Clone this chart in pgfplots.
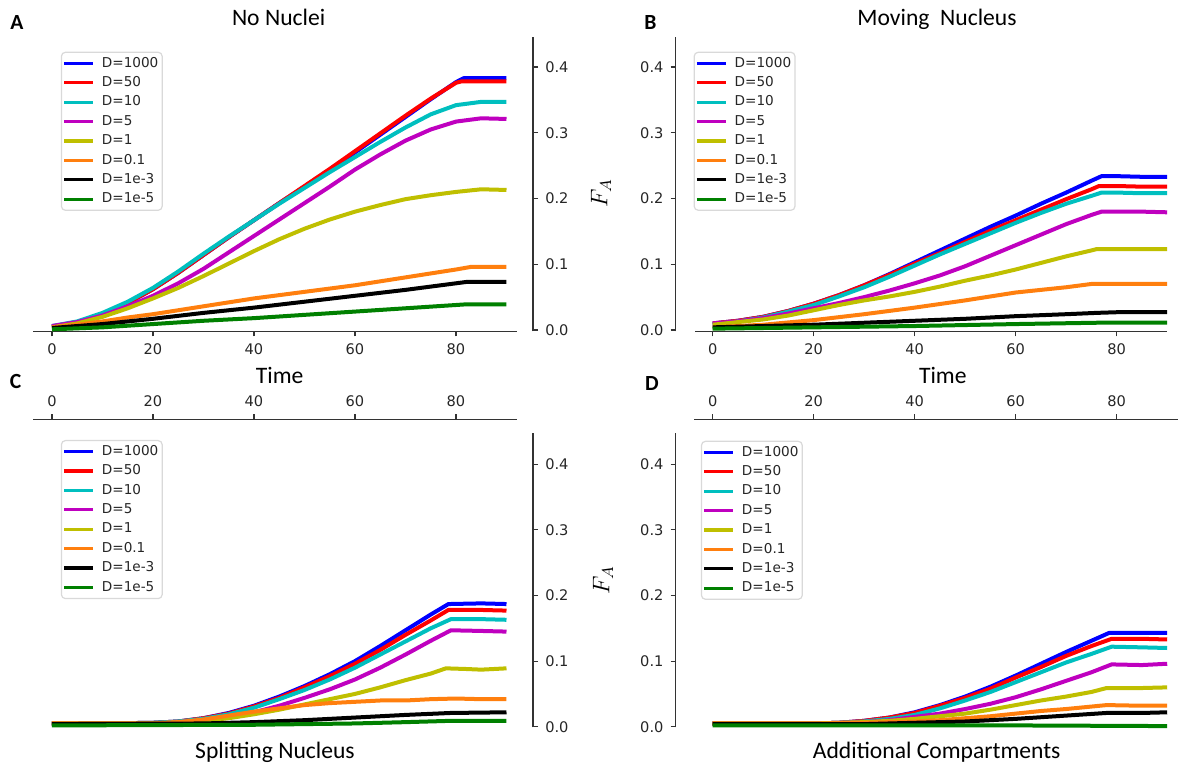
\documentclass[border=0pt]{standalone}
\usepackage{pgfplots}
\pgfplotsset{compat=1.18}
\usepackage{fontspec}
\setmainfont{Carlito}
\newfontfamily\dejavu{DejaVu Sans}
\definecolor{mb}{rgb}{0,0,1}
\definecolor{mr}{rgb}{1,0,0}
\definecolor{mc}{rgb}{0,0.75,0.75}
\definecolor{mm}{rgb}{0.75,0,0.75}
\definecolor{my}{rgb}{0.75,0.75,0}
\definecolor{mo}{HTML}{FF7F0E}
\definecolor{mk}{rgb}{0,0,0}
\definecolor{mg}{rgb}{0,0.5,0}
\pgfplotsset{
 every non boxed x axis/.style={},
 every non boxed y axis/.style={},
 panel/.style={
  scale only axis,
  clip=false,
  enlargelimits=false,
  no markers,
  separate axis lines,
  axis line style={black!80, line width=0.55pt, -},
  tick style={black!80, line width=0.55pt},
  tick align=outside,
  major tick length=2.6pt,
  xtick={0,20,40,60,80},
  ytick={0,0.1,0.2,0.3,0.4},
  tick label style={font=\dejavu\fontsize{7.3}{8.5}\selectfont, text=black!85},
  /pgf/number format/assume math mode=true,
  y tick label style={/pgf/number format/.cd, fixed, fixed zerofill, precision=1, /tikz/.cd},
  cycle list={{mb},{mr},{mc},{mm},{my},{mo},{mk},{mg}},
  every axis plot/.append style={line width=2pt, line join=round},
  legend image code/.code={\draw[#1,line width=1.6pt] (0pt,0pt) -- (14.7pt,0pt);},
  legend cell align=left,
  legend style={anchor=north west, draw=black!15, line width=0.6pt, rounded corners=2pt, fill=white,
    font=\dejavu\fontsize{6.8}{7.5}\selectfont, text=black!85, inner xsep=0.5pt, inner ysep=0.7pt,
    column sep=2.05pt, row sep=0pt,
    nodes={inner xsep=1.4pt, inner ysep=1.5pt, text height=5.2pt, text depth=1.5pt}},
 }
}
\begin{document}
\begin{tikzpicture}
\useasboundingbox (0,0) rectangle (589.5pt,382.5pt);
% ---------------- A ----------------
\begin{axis}[panel, at={(16.5pt,216.85pt)}, anchor=south west, width=250pt, height=147.25pt,
  xmin=-3.76, xmax=95.25, ymin=-0.002, ymax=0.446,
  axis x line=bottom, axis y line=right,
  x axis line style={-, shorten >=8pt}, y axis line style={-},
  legend style={at={(0.0556,0.9494)}}]
\addplot coordinates {(0,0.005)(5,0.012)(10,0.024)(15,0.041)(20,0.062)(25,0.087)(30,0.114)(35,0.141)(40,0.167)(45,0.193)(50,0.218)(55,0.244)(60,0.270)(65,0.297)(70,0.324)(75,0.351)(80,0.377)(81.5,0.383)(85,0.383)(90,0.383)};
\addplot coordinates {(0,0.005)(5,0.012)(10,0.024)(15,0.041)(20,0.062)(25,0.087)(30,0.114)(35,0.141)(40,0.167)(45,0.193)(50,0.219)(55,0.245)(60,0.272)(65,0.299)(70,0.326)(75,0.352)(80,0.376)(81,0.378)(85,0.378)(90,0.378)};
\addplot coordinates {(0,0.006)(5,0.013)(10,0.026)(15,0.043)(20,0.064)(25,0.089)(30,0.116)(35,0.142)(40,0.167)(45,0.192)(50,0.216)(55,0.240)(60,0.263)(65,0.286)(70,0.308)(75,0.328)(80,0.342)(85,0.347)(90,0.347)};
\addplot coordinates {(0,0.006)(5,0.012)(10,0.022)(15,0.036)(20,0.052)(25,0.071)(30,0.093)(35,0.118)(40,0.143)(45,0.168)(50,0.193)(55,0.218)(60,0.244)(65,0.267)(70,0.288)(75,0.305)(80,0.317)(85,0.322)(90,0.321)};
\addplot coordinates {(0,0.004)(5,0.010)(10,0.020)(15,0.033)(20,0.048)(25,0.064)(30,0.082)(35,0.101)(40,0.120)(45,0.138)(50,0.154)(55,0.168)(60,0.180)(65,0.190)(70,0.199)(75,0.205)(80,0.210)(85,0.214)(90,0.213)};
\addplot coordinates {(0,0.004)(5,0.008)(10,0.013)(15,0.019)(20,0.024)(25,0.030)(30,0.036)(35,0.042)(40,0.048)(45,0.053)(50,0.058)(55,0.063)(60,0.068)(65,0.074)(70,0.080)(75,0.086)(80,0.092)(83,0.096)(90,0.096)};
\addplot coordinates {(0,0.003)(10,0.009)(20,0.017)(30,0.026)(40,0.034)(50,0.043)(60,0.052)(70,0.061)(80,0.071)(82,0.073)(90,0.073)};
\addplot coordinates {(0,0.001)(10,0.004)(20,0.009)(30,0.014)(40,0.018)(50,0.023)(60,0.028)(70,0.033)(80,0.038)(82,0.039)(90,0.039)};
\legend{D=1000,D=50,D=10,D=5,D=1,D=0.1,D=1e-3,D=1e-5}
\end{axis}
% ---------------- B ----------------
\begin{axis}[panel, at={(337.85pt,216.85pt)}, anchor=south west, width=245.75pt, height=147.25pt,
  xmin=-7.33, xmax=90, ymin=-0.002, ymax=0.446,
  axis x line=bottom, axis y line=left,
  x axis line style={-, shorten <=9.65pt}, y axis line style={-},
  legend style={at={(0.0364,0.9494)}}]
\addplot coordinates {(0,0.010)(5,0.014)(10,0.020)(15,0.029)(20,0.040)(25,0.053)(30,0.068)(35,0.085)(40,0.103)(45,0.121)(50,0.139)(55,0.157)(60,0.174)(65,0.192)(70,0.209)(75,0.227)(77,0.234)(80,0.234)(85,0.233)(90,0.233)};
\addplot coordinates {(0,0.010)(5,0.014)(10,0.020)(15,0.029)(20,0.040)(25,0.053)(30,0.068)(35,0.084)(40,0.101)(45,0.117)(50,0.134)(55,0.151)(60,0.167)(65,0.183)(70,0.199)(75,0.214)(76.5,0.219)(80,0.219)(85,0.218)(90,0.218)};
\addplot coordinates {(0,0.009)(5,0.013)(10,0.019)(15,0.028)(20,0.038)(25,0.051)(30,0.065)(35,0.081)(40,0.098)(45,0.115)(50,0.131)(55,0.147)(60,0.163)(65,0.178)(70,0.192)(75,0.204)(77,0.209)(80,0.209)(85,0.208)(90,0.208)};
\addplot coordinates {(0,0.010)(5,0.013)(10,0.018)(15,0.025)(20,0.033)(25,0.041)(30,0.050)(35,0.060)(40,0.071)(45,0.083)(50,0.097)(55,0.113)(60,0.129)(65,0.145)(70,0.161)(75,0.175)(77,0.180)(80,0.180)(85,0.180)(90,0.179)};
\addplot coordinates {(0,0.008)(5,0.012)(10,0.016)(15,0.022)(20,0.030)(25,0.038)(30,0.045)(35,0.051)(40,0.058)(45,0.066)(50,0.075)(55,0.083)(60,0.092)(65,0.102)(70,0.112)(75,0.121)(76,0.123)(80,0.123)(85,0.123)(90,0.123)};
\addplot coordinates {(0,0.004)(10,0.008)(20,0.015)(30,0.024)(40,0.034)(50,0.045)(60,0.057)(65,0.061)(70,0.065)(75,0.070)(80,0.070)(90,0.070)};
\addplot coordinates {(0,0.004)(10,0.006)(20,0.008)(30,0.011)(40,0.014)(50,0.017)(60,0.021)(70,0.024)(76,0.026)(80,0.027)(90,0.027)};
\addplot coordinates {(0,0.002)(20,0.004)(40,0.006)(60,0.009)(76,0.011)(90,0.011)};
\legend{D=1000,D=50,D=10,D=5,D=1,D=0.1,D=1e-3,D=1e-5}
\end{axis}
% ---------------- C ----------------
\begin{axis}[panel, at={(16.5pt,18.8pt)}, anchor=south west, width=250pt, height=154.05pt,
  xmin=-3.76, xmax=95.25, ymin=-0.001, ymax=0.4686,
  axis x line=top, axis y line=right,
  x axis line style={-, shorten >=8pt}, y axis line style={-, shorten >=6.7pt},
  legend style={at={(0.0556,0.9328)}}]
\addplot coordinates {(0,0.005)(10,0.005)(20,0.006)(25,0.008)(30,0.013)(35,0.021)(40,0.032)(45,0.046)(50,0.062)(55,0.080)(60,0.100)(65,0.123)(70,0.147)(75,0.171)(78.5,0.187)(85,0.188)(90,0.187)};
\addplot coordinates {(0,0.005)(10,0.005)(20,0.006)(25,0.008)(30,0.013)(35,0.020)(40,0.031)(45,0.044)(50,0.060)(55,0.077)(60,0.096)(65,0.117)(70,0.140)(75,0.162)(78.5,0.178)(85,0.178)(90,0.177)};
\addplot coordinates {(0,0.005)(10,0.005)(20,0.006)(25,0.008)(30,0.012)(35,0.019)(40,0.029)(45,0.042)(50,0.056)(55,0.072)(60,0.090)(65,0.110)(70,0.130)(75,0.150)(79,0.164)(85,0.164)(90,0.163)};
\addplot coordinates {(0,0.005)(20,0.005)(25,0.007)(30,0.010)(35,0.015)(40,0.022)(45,0.032)(50,0.044)(55,0.057)(60,0.072)(65,0.090)(70,0.110)(75,0.131)(79,0.147)(85,0.146)(90,0.145)};
\addplot coordinates {(0,0.005)(20,0.005)(25,0.007)(30,0.009)(35,0.013)(40,0.019)(45,0.026)(50,0.034)(55,0.042)(60,0.050)(65,0.060)(70,0.071)(75,0.081)(78,0.089)(82,0.088)(85,0.087)(90,0.089)};
\addplot coordinates {(0,0.005)(20,0.005)(25,0.007)(30,0.011)(35,0.017)(40,0.023)(45,0.028)(50,0.033)(55,0.036)(60,0.038)(65,0.040)(70,0.040)(75,0.042)(80,0.043)(85,0.042)(90,0.042)};
\addplot coordinates {(0,0.004)(30,0.005)(40,0.007)(50,0.010)(60,0.014)(70,0.018)(79,0.021)(90,0.022)};
\addplot coordinates {(0,0.002)(40,0.003)(60,0.005)(70,0.007)(79,0.009)(90,0.009)};
\legend{D=1000,D=50,D=10,D=5,D=1,D=0.1,D=1e-3,D=1e-5}
\end{axis}
% ---------------- D ----------------
\begin{axis}[panel, at={(337.85pt,18.8pt)}, anchor=south west, width=251.3pt, height=154.05pt,
  xmin=-7.33, xmax=92.2, ymin=-0.001, ymax=0.4686,
  axis x line=top, axis y line=left,
  x axis line style={-, shorten <=9.3pt}, y axis line style={-, shorten >=6.7pt},
  legend style={at={(0.0501,0.9305)}}]
\addplot coordinates {(0,0.005)(20,0.005)(25,0.006)(30,0.009)(35,0.014)(40,0.022)(45,0.033)(50,0.046)(55,0.061)(60,0.078)(65,0.096)(70,0.114)(75,0.131)(78.5,0.143)(85,0.143)(90,0.143)};
\addplot coordinates {(0,0.005)(20,0.005)(25,0.006)(30,0.009)(35,0.014)(40,0.021)(45,0.032)(50,0.044)(55,0.058)(60,0.075)(65,0.091)(70,0.108)(75,0.123)(79,0.134)(85,0.134)(90,0.133)};
\addplot coordinates {(0,0.005)(20,0.005)(25,0.006)(30,0.008)(35,0.012)(40,0.018)(45,0.028)(50,0.040)(55,0.053)(60,0.068)(65,0.083)(70,0.098)(75,0.111)(79,0.122)(85,0.121)(90,0.120)};
\addplot coordinates {(0,0.005)(20,0.005)(30,0.007)(35,0.010)(40,0.015)(45,0.020)(50,0.027)(55,0.035)(60,0.045)(65,0.057)(70,0.070)(75,0.083)(79,0.095)(85,0.094)(90,0.096)};
\addplot coordinates {(0,0.005)(20,0.005)(30,0.007)(35,0.009)(40,0.012)(45,0.016)(50,0.020)(55,0.026)(60,0.033)(65,0.040)(70,0.046)(75,0.053)(78,0.059)(85,0.059)(90,0.060)};
\addplot coordinates {(0,0.005)(20,0.005)(30,0.006)(40,0.008)(45,0.010)(50,0.013)(55,0.016)(60,0.020)(65,0.024)(70,0.027)(78,0.033)(85,0.032)(90,0.032)};
\addplot coordinates {(0,0.004)(30,0.004)(40,0.006)(50,0.008)(60,0.012)(70,0.017)(78,0.021)(85,0.021)(90,0.022)};
\addplot coordinates {(0,0.002)(30,0.002)(60,0.002)(90,0.001)};
\legend{D=1000,D=50,D=10,D=5,D=1,D=0.1,D=1e-3,D=1e-5}
\end{axis}
% ---------------- texts ----------------
\node[anchor=base, font=\fontsize{10.8}{12}\selectfont\bfseries] at (8.4pt,367.5pt) {A};
\node[anchor=base, font=\fontsize{10.8}{12}\selectfont\bfseries] at (325.2pt,367.85pt) {B};
\node[anchor=base, font=\fontsize{10.8}{12}\selectfont\bfseries] at (7.8pt,188.35pt) {C};
\node[anchor=base, font=\fontsize{10.8}{12}\selectfont\bfseries] at (326pt,187.15pt) {D};
\node[anchor=base, font=\fontsize{11.8}{14}\selectfont] at (139.3pt,369.5pt) {No Nuclei};
\node[anchor=base, font=\fontsize{11.8}{14}\selectfont] at (468.5pt,369.5pt) {Moving\ \ Nucleus};
\node[anchor=base, font=\fontsize{11.8}{14}\selectfont] at (139.85pt,190.85pt) {Time};
\node[anchor=base, font=\fontsize{11.8}{14}\selectfont] at (471.4pt,190.85pt) {Time};
\node[anchor=base, font=\fontsize{11.8}{14}\selectfont] at (137.5pt,3.35pt) {Splitting Nucleus};
\node[anchor=base, font=\fontsize{11.8}{14}\selectfont] at (468.35pt,3.35pt) {Additional Compartments};
\node[rotate=90, font=\fontsize{12}{14}\selectfont] at (300.5pt,286pt) {$F_A$};
\node[rotate=90, font=\fontsize{12}{14}\selectfont] at (301.5pt,92.5pt) {$F_A$};
\end{tikzpicture}
\end{document}
